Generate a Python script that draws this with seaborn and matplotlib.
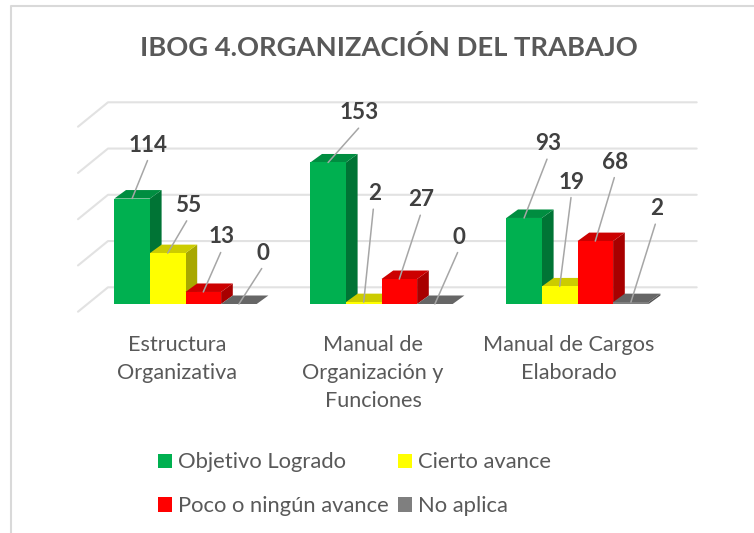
import matplotlib
matplotlib.use("Agg")
import matplotlib.pyplot as plt
from matplotlib.lines import Line2D
from matplotlib.patches import Patch, Polygon
from matplotlib.transforms import ScaledTranslation
import pandas as pd
import seaborn as sns

# ---- data ----
categories = ["Estructura\nOrganizativa", "Manual de\nOrganización y\nFunciones", "Manual de Cargos\nElaborado"]
series_names = ["Objetivo Logrado", "Cierto avance", "Poco o ningún avance", "No aplica"]
objetivo_logrado = [114, 153, 93]
cierto_avance = [55, 2, 19]
poco_avance = [13, 27, 68]
no_aplica = [0, 0, 2]
colors = ["#00B050", "#FFFF00", "#FF0000", "#7F7F7F"]
grid_values = [0, 50, 100, 150, 200]

# label offsets from the top of each bar, in pixels (series by series, category by category)
label_offsets = [
    [(16.4, 55.5), (31.5, 51.8), (23.9, 76.3)],
    [(20.0, 49.8), (10.6, 110.5), (12.3, 106.4)],
    [(18.4, 57.0), (22.0, 81.3), (20.0, 81.0)],
    [(23.8, 53.0), (23.7, 69.0), (25.4, 95.5)],
]

W, H = 754, 533
AX_L, AX_W = 87.5, 588.0
BASE_Y = 304.0
PX_PER_UNIT = 0.925
YMAX = 250
DEPTH_X, DEPTH_Y = 11.7, 8.5

sns.set_theme(style="white")
plt.rcParams["font.family"] = ["Lato", "DejaVu Sans"]

df = pd.DataFrame({
    "categoria": categories * 4,
    "serie": [s for s in series_names for _ in categories],
    "valor": objetivo_logrado + cierto_avance + poco_avance + no_aplica,
})

fig = plt.figure(figsize=(W / 100, H / 100), dpi=100, facecolor="white")
ax = fig.add_axes([AX_L / W, (H - BASE_Y) / H, AX_W / W, YMAX * PX_PER_UNIT / H])
ax.patch.set_alpha(0)

sns.barplot(data=df, x="categoria", y="valor", hue="serie", order=categories,
            hue_order=series_names, palette=colors, width=142.4 / 196, gap=0,
            saturation=1, dodge=True, legend=False, ax=ax, linewidth=0, errorbar=None)

ax.set_xlim(-0.5, 2.5)
ax.set_ylim(0, YMAX)
ax.set_xlabel("")
ax.set_ylabel("")
ax.set_yticks([])
for s in ax.spines.values():
    s.set_visible(False)

# pixel -> data conversions for the depth of the pseudo-3D look
px_x = 3.0 / AX_W
px_y = 1.0 / PX_PER_UNIT
dx, dy = DEPTH_X * px_x, DEPTH_Y * px_y


def shade(color, k):
    r, g, b = matplotlib.colors.to_rgb(color)
    return (r * k, g * k, b * k)


# back wall gridlines and floor-side ticks
back_left = (108 - AX_L) * px_x - 0.5
back_right = (696.7 - AX_L) * px_x - 0.5
side_left = (78 - AX_L) * px_x - 0.5
back_rise = 16.7 * px_y
side_drop = 24.4 * px_y
for v in grid_values:
    ax.plot([side_left, back_left, back_right],
            [v + back_rise - side_drop, v + back_rise, v + back_rise],
            color="#E2E2E2", lw=1.5, zorder=1, clip_on=False, solid_joinstyle="round")

# fronts from seaborn, sides and tops from the same bars
for i, (container, color) in enumerate(zip(ax.containers, colors)):
    for j, bar in enumerate(container):
        x0, w, h = bar.get_x(), bar.get_width(), bar.get_height()
        z = 3 + i
        bar.set_zorder(z + 0.2)
        bar.set_edgecolor("none")
        x1 = x0 + w
        ax.add_patch(Polygon([(x1, 0), (x1 + dx, dy), (x1 + dx, h + dy), (x1, h)],
                             closed=True, facecolor=shade(color, 0.66), edgecolor="none",
                             zorder=z, clip_on=False))
        ax.add_patch(Polygon([(x0, h), (x1, h), (x1 + dx, h + dy), (x0 + dx, h + dy)],
                             closed=True, facecolor=shade(color, 0.8), edgecolor="none",
                             zorder=z + 0.1, clip_on=False))
        cx = x0 + w / 2
        ox, oy = label_offsets[i][j]
        ax.annotate("", xy=(cx, h), xytext=(ox - 1, oy - 17.5), textcoords="offset pixels",
                    arrowprops=dict(arrowstyle="-", color="#A6A6A6", lw=1.1, shrinkA=0, shrinkB=0),
                    zorder=10, annotation_clip=False)
        ax.annotate(str(int(h)), xy=(cx, h), xytext=(ox, oy - 2), textcoords="offset pixels",
                    ha="center", va="center", fontsize=16.2, fontweight="bold", color="#404040",
                    zorder=11, annotation_clip=False)

# category labels
ax.tick_params(axis="x", length=0, pad=22.2)
shift = ScaledTranslation(-8.5 / 100, 0, fig.dpi_scale_trans)
for lab in ax.get_xticklabels():
    lab.set_transform(lab.get_transform() + shift)
    lab.set_fontsize(15.6)
    lab.set_color("#595959")
    lab.set_linespacing(1.52)

# title
fig.text(389 / W, 1 - 47 / H, "IBOG 4.ORGANIZACIÓN DEL TRABAJO", ha="center", va="center",
         fontsize=19.7, fontweight="bold", color="#595959")

# legend: columns fill first, so reorder for the reference's reading order
order = [0, 2, 1, 3]
handles = [Patch(facecolor=colors[k], edgecolor="none") for k in order]
labels = [series_names[k] for k in order]
fig.legend(handles, labels, ncol=2, loc="upper left",
           bbox_to_anchor=(158 / W, 1 - 452.5 / H), frameon=False, fontsize=15.85,
           borderpad=0, borderaxespad=0, handlelength=0.64, handleheight=0.62,
           handletextpad=0.29, labelspacing=1.08, columnspacing=0.38, labelcolor="#595959")

# chart frame
fig.add_artist(Line2D([10.5 / W, 10.5 / W, 1], [0, 1 - 6 / H, 1 - 6 / H],
                      color="#D9D9D9", lw=1.5, transform=fig.transFigure))

fig.savefig("out.png", dpi=100, facecolor="white")
